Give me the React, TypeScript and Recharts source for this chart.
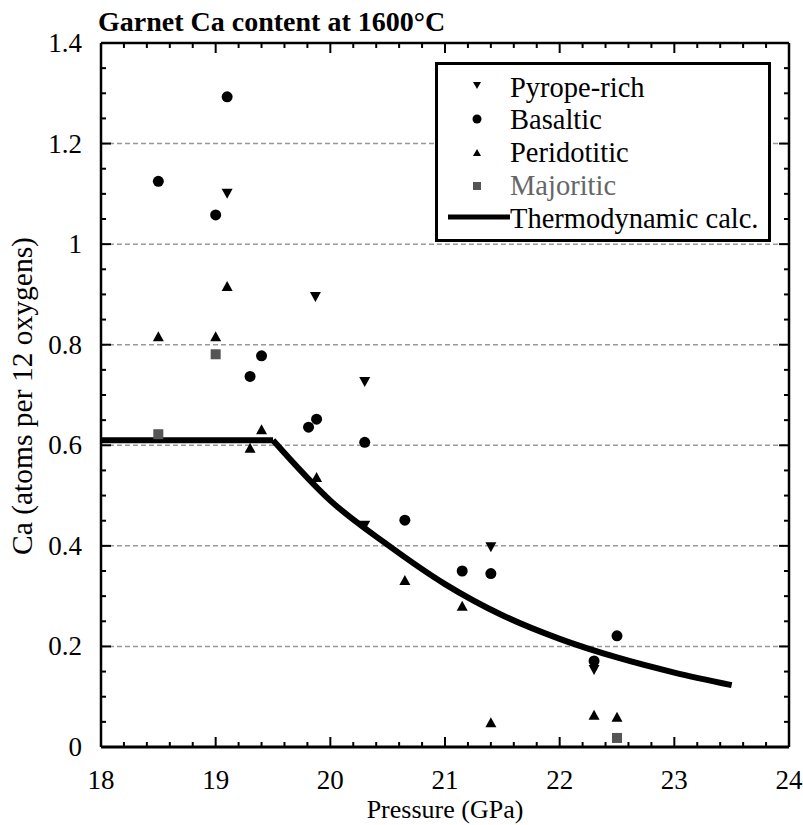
import { ComposedChart, Customized, Legend, Line, ReferenceLine, Scatter, XAxis, YAxis } from 'recharts';

// [pressure GPa, Ca atoms per 12 O]
const pyropeRich = [[19.1, 1.1], [19.87, 0.895], [20.3, 0.726], [20.3, 0.44], [21.4, 0.397], [22.3, 0.153]];
const basaltic = [
  [18.5, 1.125], [19.1, 1.293], [19.0, 1.058], [19.4, 0.778], [19.3, 0.737], [19.88, 0.652], [19.81, 0.636],
  [20.3, 0.606], [20.65, 0.451], [21.15, 0.35], [21.4, 0.345], [22.5, 0.221], [22.3, 0.171],
];
const peridotitic = [
  [18.5, 0.817], [19.0, 0.817], [19.1, 0.917], [19.4, 0.632], [19.3, 0.595], [19.88, 0.537],
  [20.65, 0.332], [21.15, 0.281], [21.4, 0.049], [22.3, 0.064], [22.5, 0.06],
];
const majoritic = [[18.5, 0.622], [19.0, 0.781], [22.5, 0.018]];

// thermodynamic calculation: flat until 19.5 GPa, then decreasing
const calcP = [18, 19.5, 20, 20.5, 21, 21.5, 22, 22.5, 23, 23.5];
const calcCa = [0.61, 0.61, 0.49, 0.402, 0.324, 0.262, 0.215, 0.178, 0.148, 0.123];

const xMajor = [18, 19, 20, 21, 22, 23, 24];
const yMajor = [0, 0.2, 0.4, 0.6, 0.8, 1, 1.2, 1.4];
const xTicks = Array.from({ length: 31 }, (_, i) => Math.round((18 + i * 0.2) * 10) / 10);
const yTicks = Array.from({ length: 29 }, (_, i) => Math.round(i * 5) / 100);

const FONT = "'Liberation Serif', 'Times New Roman', serif";
const W = 803;
const H = 825;
const M = { top: 43, right: 14, left: 41, bottom: 28 };
const Y_W = 60;
const X_H = 50;
const PLOT_W = W - M.left - Y_W - M.right;
const PLOT_H = H - M.top - M.bottom - X_H;

const toPts = (rows: number[][]) => rows.map(([p, ca]) => ({ p, ca }));
const calcLine = calcP.map((p, i) => ({ p, ca: calcCa[i] }));
const kink = calcCa.findIndex((v, i) => i > 0 && v < calcCa[0]) - 1;

const isMajor = (v: number, list: number[]) => list.some((m) => Math.abs(m - v) < 1e-6);

function XTick(props: any) {
  const { x, y, payload } = props;
  const major = isMajor(payload.value, xMajor);
  const len = major ? 10 : 5;
  return (
    <g>
      <line x1={x} x2={x} y1={y} y2={y - len} stroke="#000" strokeWidth={2} />
      <line x1={x} x2={x} y1={y - PLOT_H} y2={y - PLOT_H + len} stroke="#000" strokeWidth={2} />
      {major && (
        <text x={x} y={y + 42} textAnchor="middle" fontSize={27} fontFamily={FONT} fill="#000">
          {payload.value}
        </text>
      )}
    </g>
  );
}

function YTick(props: any) {
  const { x, y, payload } = props;
  const major = isMajor(payload.value, yMajor);
  const len = major ? 10 : 5;
  return (
    <g>
      <line x1={x} x2={x + len} y1={y} y2={y} stroke="#000" strokeWidth={2} />
      <line x1={x + PLOT_W} x2={x + PLOT_W - len} y1={y} y2={y} stroke="#000" strokeWidth={2} />
      {major && (
        <text x={x - 19} y={y + 9} textAnchor="end" fontSize={27} fontFamily={FONT} fill="#000">
          {String(Math.round(payload.value * 10) / 10)}
        </text>
      )}
    </g>
  );
}

const downTri = (props: any) => {
  const { cx, cy } = props;
  return <path d={`M${cx - 5.5},${cy - 5}L${cx + 5.5},${cy - 5}L${cx},${cy + 5}Z`} fill="#000" />;
};
const upTri = (props: any) => {
  const { cx, cy } = props;
  return <path d={`M${cx - 5.5},${cy + 5}L${cx + 5.5},${cy + 5}L${cx},${cy - 5}Z`} fill="#000" />;
};
const dot = (props: any) => <circle cx={props.cx} cy={props.cy} r={5.5} fill="#000" />;
const square = (props: any) => <rect x={props.cx - 5} y={props.cy - 5} width={10} height={10} fill="#555" />;

function LegendBox() {
  const rows = [
    { label: 'Pyrope-rich', y: 35 },
    { label: 'Basaltic', y: 67 },
    { label: 'Peridotitic', y: 100 },
    { label: 'Majoritic', y: 133, color: '#666' },
    { label: 'Thermodynamic calc.', y: 166 },
  ];
  return (
    <svg width={336} height={180} style={{ display: 'block' }}>
      <rect x={1.5} y={1.5} width={333} height={177} fill="#fff" stroke="#000" strokeWidth={3} />
      <path d="M38,20L46,20L42,27Z" fill="#000" />
      <circle cx={42} cy={57} r={4.5} fill="#000" />
      <path d="M38,94L46,94L42,87Z" fill="#000" />
      <rect x={38} y={120} width={8} height={8} fill="#555" />
      <line x1={13} x2={75} y1={155} y2={155} stroke="#000" strokeWidth={5} />
      {rows.map((r) => (
        <text key={r.label} x={75} y={r.y} fontSize={28.5} fontFamily={FONT} fill={r.color || '#000'}>
          {r.label}
        </text>
      ))}
    </svg>
  );
}

const Titles = () => (
  <g>
    <text x={98} y={31} fontSize={28} fontWeight="bold" fontFamily={FONT} fill="#000">
      Garnet Ca content at 1600°C
    </text>
    <text transform="translate(32,396) rotate(-90)" textAnchor="middle" fontSize={29.5} fontFamily={FONT} fill="#000">
      Ca (atoms per 12 oxygens)
    </text>
  </g>
);

export default function App() {
  return (
    <div style={{ position: 'absolute', left: 0, top: 0, width: W, height: H, background: '#fff' }}>
      <ComposedChart width={W} height={H} margin={M}>
        <XAxis
          type="number"
          dataKey="p"
          domain={[18, 24]}
          ticks={xTicks}
          interval={0}
          allowDataOverflow
          height={X_H}
          tickLine={false}
          tickSize={0}
          tickMargin={0}
          axisLine={{ stroke: '#000', strokeWidth: 3 }}
          tick={<XTick />}
          label={{ value: 'Pressure (GPa)', position: 'insideBottom', offset: -21, fontSize: 26, fontFamily: FONT, fill: '#000' }}
        />
        <YAxis
          type="number"
          dataKey="ca"
          domain={[0, 1.4]}
          ticks={yTicks}
          interval={0}
          allowDataOverflow
          width={Y_W}
          tickLine={false}
          tickSize={0}
          tickMargin={0}
          axisLine={{ stroke: '#000', strokeWidth: 2.5 }}
          tick={<YTick />}
        />
        {yMajor.map((v) => (
          <ReferenceLine key={v} y={v} stroke="#999" strokeDasharray="5 3" strokeWidth={1.5} />
        ))}
        <ReferenceLine y={1.4} stroke="#000" strokeWidth={2.5} />
        <ReferenceLine x={24} stroke="#000" strokeWidth={2.5} />
        <Scatter name="Pyrope-rich" data={toPts(pyropeRich)} dataKey="ca" shape={downTri} isAnimationActive={false} />
        <Scatter name="Basaltic" data={toPts(basaltic)} dataKey="ca" shape={dot} isAnimationActive={false} />
        <Scatter name="Peridotitic" data={toPts(peridotitic)} dataKey="ca" shape={upTri} isAnimationActive={false} />
        <Scatter name="Majoritic" data={toPts(majoritic)} dataKey="ca" shape={square} isAnimationActive={false} />
        <Line
          name="Thermodynamic calc."
          data={calcLine.slice(0, kink + 1)}
          dataKey="ca"
          type="linear"
          stroke="#000"
          strokeWidth={6}
          dot={false}
          activeDot={false}
          legendType="none"
          isAnimationActive={false}
        />
        <Line
          name="Thermodynamic calc."
          data={calcLine.slice(kink)}
          dataKey="ca"
          type="monotone"
          stroke="#000"
          strokeWidth={6}
          dot={false}
          activeDot={false}
          isAnimationActive={false}
        />
        <Legend
          content={<LegendBox />}
          layout="horizontal"
          verticalAlign="middle"
          align="center"
          wrapperStyle={{ position: 'absolute', left: 435, top: 62, width: 336, height: 180 }}
        />
        <Customized component={Titles} />
      </ComposedChart>
    </div>
  );
}
